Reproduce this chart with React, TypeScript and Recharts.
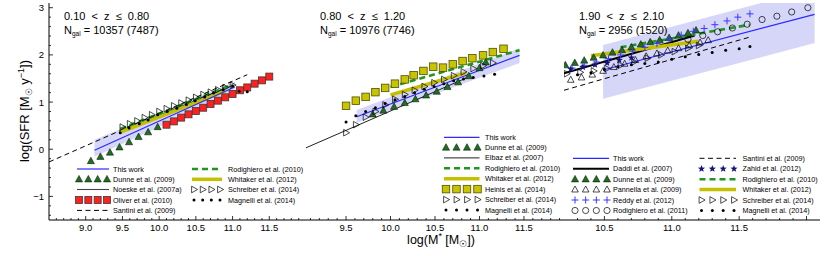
import React from "react";
import { ComposedChart, Line, Area, Scatter, XAxis, YAxis } from "recharts";

const FONT = "'Liberation Sans', Arial, sans-serif";
const Y_DOMAIN: [number, number] = [-1.5, 3.1];
const yLabels = [-1, 0, 1, 2, 3];

// ---- panel 1 : 0.10 < z <= 0.80
const p1Domain: [number, number] = [8.5, 12.0];
const p1XLabels = [9.0, 9.5, 10.0, 10.5, 11.0, 11.5];
const p1BandX = [9.12, 11.03];
const p1BandLo = [-0.16, 1.22];
const p1BandHi = [0.2, 1.43];
const p1ThisWorkY = [-0.02, 1.32];
const p1SantiniX = [8.5, 11.2];
const p1SantiniY = [-0.27, 1.58];
const p1NoeskeX = [9.5, 11.0];
const p1NoeskeY = [0.4, 1.35];
const p1RodX = [9.47, 11.0];
const p1RodY = [0.43, 1.37];
const p1WhitX = [9.47, 10.9];
const p1WhitY = [0.36, 1.23];
const p1DunneX = [9.07, 9.2, 9.33, 9.46, 9.59, 9.72, 9.85, 9.98];
const p1DunneY = [-0.25, -0.16, -0.07, 0.04, 0.15, 0.26, 0.36, 0.47];
const p1OliverX = [10.1, 10.2, 10.3, 10.4, 10.5, 10.6, 10.7, 10.8, 10.9, 11.0, 11.1, 11.2, 11.3, 11.4, 11.5];
const p1OliverY = [0.52, 0.59, 0.67, 0.74, 0.81, 0.88, 0.96, 1.03, 1.1, 1.17, 1.25, 1.31, 1.39, 1.46, 1.54];
const p1SchreiberX = [9.5, 9.6, 9.7, 9.8, 9.9, 10.0, 10.1, 10.2, 10.3, 10.4, 10.5, 10.6, 10.7, 10.8, 10.9, 11.0];
const p1SchreiberY = [0.47, 0.54, 0.6, 0.67, 0.73, 0.8, 0.86, 0.92, 0.98, 1.04, 1.1, 1.16, 1.21, 1.26, 1.31, 1.36];
const p1MagnelliX = [9.47, 9.59, 9.73, 9.85, 9.98, 10.11, 10.24, 10.37, 10.49, 10.62, 10.74, 10.87, 11.0, 11.09, 11.2];
const p1MagnelliY = [0.35, 0.45, 0.54, 0.62, 0.73, 0.8, 0.87, 0.95, 1.03, 1.11, 1.19, 1.26, 1.34, 1.23, 1.22];

// ---- panel 2 : 0.80 < z <= 1.20
const p2Domain: [number, number] = [9.05, 11.95];
const p2XLabels = [9.5, 10.0, 10.5, 11.0, 11.5];
const p2BandX = [9.62, 11.45];
const p2BandLo = [0.56, 1.83];
const p2BandHi = [0.83, 2.14];
const p2ThisWorkY = [0.69, 1.99];
const p2ElbazX = [9.05, 10.9];
const p2ElbazY = [0.03, 1.55];
const p2RodX = [10.0, 11.45];
const p2RodY = [1.32, 2.1];
const p2WhitX = [10.0, 10.85];
const p2WhitY = [1.15, 1.62];
const p2DunneX = [9.8, 9.92, 10.04, 10.16, 10.28, 10.4, 10.52, 10.64, 10.76, 10.88, 11.0, 11.07];
const p2DunneY = [0.74, 0.82, 0.9, 0.98, 1.06, 1.14, 1.22, 1.32, 1.42, 1.55, 1.72, 1.84];
const p2HeinisX = [9.5, 9.61, 9.72, 9.83, 9.94, 10.05, 10.16, 10.26, 10.37, 10.48, 10.59, 10.7, 10.81, 10.92, 11.04, 11.15, 11.27];
const p2HeinisY = [0.92, 1.03, 1.11, 1.21, 1.3, 1.39, 1.48, 1.57, 1.66, 1.75, 1.73, 1.8, 1.87, 1.93, 1.99, 2.06, 2.13];
const p2SchreiberX = [9.5, 9.61, 9.72, 9.83, 9.94, 10.05, 10.16, 10.27, 10.38, 10.49, 10.6, 10.71, 10.82, 10.93, 11.04, 11.15];
const p2SchreiberY = [0.35, 0.52, 0.68, 0.8, 0.94, 1.06, 1.16, 1.25, 1.33, 1.41, 1.48, 1.56, 1.64, 1.71, 1.77, 1.83];
const p2MagnelliX = [9.5, 9.61, 9.72, 9.83, 9.94, 10.05, 10.16, 10.27, 10.38, 10.49, 10.6, 10.71, 10.82, 10.93, 11.05, 11.17];
const p2MagnelliY = [0.58, 0.71, 0.8, 0.88, 0.97, 1.05, 1.12, 1.2, 1.27, 1.33, 1.39, 1.45, 1.49, 1.52, 1.55, 1.59];

// ---- panel 3 : 1.90 < z <= 2.10
const p3Domain: [number, number] = [10.2, 12.1];
const p3XLabels = [10.5, 11.0, 11.5];
const p3BandX = [10.49, 12.06];
const p3BandLo = [1.07, 2.25];
const p3BandHi = [2.21, 3.4];
const p3ThisWorkY = [1.68, 2.86];
const p3DaddiX = [10.2, 11.17];
const p3DaddiY = [1.61, 2.41];
const p3SantiniX = [10.2, 11.57];
const p3SantiniY = [1.25, 2.37];
const p3RodX = [10.62, 11.58];
const p3RodY = [2.16, 2.64];
const p3WhitX = [10.4, 11.2];
const p3WhitY = [1.98, 2.29];
const p3DunneX = [10.21, 10.28, 10.35, 10.42, 10.49, 10.56, 10.63, 10.7, 10.77, 10.84, 10.91, 10.98, 11.05, 11.12, 11.18];
const p3DunneY = [1.78, 1.83, 1.88, 1.94, 1.99, 2.05, 2.1, 2.16, 2.22, 2.27, 2.31, 2.36, 2.41, 2.46, 2.52];
const p3PannellaX = [10.25, 10.33, 10.41, 10.49, 10.57, 10.65, 10.73, 10.81, 10.89, 10.97, 11.05, 11.13, 11.21, 11.27];
const p3PannellaY = [1.47, 1.52, 1.58, 1.66, 1.74, 1.81, 1.89, 1.97, 2.03, 2.09, 2.14, 2.2, 2.26, 2.31];
const p3ReddyX = [10.26, 10.35, 10.44, 10.53, 10.62, 10.71, 10.8, 10.89, 10.98, 11.07, 11.16, 11.24, 11.32, 11.41, 11.49, 11.58];
const p3ReddyY = [1.72, 1.78, 1.85, 1.92, 2.0, 2.08, 2.16, 2.24, 2.33, 2.42, 2.5, 2.56, 2.64, 2.72, 2.8, 2.87];
const p3Rod11X = [11.12, 11.23, 11.34, 11.45, 11.56, 11.67, 11.78, 11.89, 12.01];
const p3Rod11Y = [2.33, 2.41, 2.49, 2.57, 2.65, 2.75, 2.82, 2.91, 3.0];
const p3ZahidX = [10.25, 10.34, 10.43, 10.52, 10.61, 10.7];
const p3ZahidY = [1.7, 1.74, 1.79, 1.83, 1.89, 1.94];
const p3SchreiberX = [10.22, 10.32, 10.42, 10.52, 10.62, 10.72, 10.82, 10.92, 11.02, 11.12, 11.2];
const p3SchreiberY = [1.6, 1.63, 1.66, 1.71, 1.78, 1.85, 1.93, 2.0, 2.07, 2.14, 2.2];
const p3MagnelliX = [10.3, 10.4, 10.5, 10.6, 10.7, 10.8, 10.9, 11.0, 11.1, 11.2, 11.3, 11.4, 11.5, 11.58];
const p3MagnelliY = [1.58, 1.62, 1.69, 1.75, 1.79, 1.82, 1.85, 1.91, 1.96, 2.01, 2.05, 2.1, 2.13, 2.18];

const pts = (xs: number[], ys: number[]) => xs.map((x, i) => ({ x, y: ys[i] }));
const band = (xs: number[], lo: number[], hi: number[]) => xs.map((x, i) => ({ x, r: [lo[i], hi[i]] }));

function ticksIn(lo: number, hi: number, step: number) {
  const out: number[] = [];
  for (let i = Math.ceil(lo / step - 1e-6); i * step <= hi + 1e-6; i++) {
    const v = +(i * step).toFixed(3);
    if (v > lo + 1e-6 && v < hi - 1e-6) out.push(v);
  }
  return out;
}

// marker shapes
const triUp = (cx: number, cy: number, s: number, fill: string, stroke: string, sw: number) => (
  <polygon
    points={`${cx},${cy - 0.6 * s} ${cx - 0.55 * s},${cy + 0.4 * s} ${cx + 0.55 * s},${cy + 0.4 * s}`}
    fill={fill} stroke={stroke} strokeWidth={sw}
  />
);
const triRight = (cx: number, cy: number, s: number) => (
  <polygon
    points={`${cx + 0.6 * s},${cy} ${cx - 0.4 * s},${cy - 0.55 * s} ${cx - 0.4 * s},${cy + 0.55 * s}`}
    fill="none" stroke="#000" strokeWidth={0.7}
  />
);
const square = (cx: number, cy: number, s: number, fill: string, stroke: string) => (
  <rect x={cx - s / 2} y={cy - s / 2} width={s} height={s} fill={fill} stroke={stroke} strokeWidth={0.8} />
);
const star = (cx: number, cy: number, r: number, fill: string) => {
  const p: string[] = [];
  for (let k = 0; k < 10; k++) {
    const a = -Math.PI / 2 + (k * Math.PI) / 5;
    const rr = k % 2 === 0 ? r : r * 0.42;
    p.push(`${cx + rr * Math.cos(a)},${cy + rr * Math.sin(a)}`);
  }
  return <polygon points={p.join(" ")} fill={fill} />;
};

const M = {
  dunne: (cx: number, cy: number) => triUp(cx, cy, 6.5, "#1d701d", "#000", 0.5),
  oliver: (cx: number, cy: number) => square(cx, cy, 7, "#ff1f1f", "#3a3a3a"),
  heinis: (cx: number, cy: number) => square(cx, cy, 7.5, "#c9c400", "#505000"),
  schreiber: (cx: number, cy: number) => triRight(cx, cy, 6),
  magnelli: (cx: number, cy: number) => <circle cx={cx} cy={cy} r={1.5} fill="#000" />,
  reddy: (cx: number, cy: number) => (
    <path d={`M${cx - 3.5},${cy}H${cx + 3.5}M${cx},${cy - 3.5}V${cy + 3.5}`} stroke="#3838ff" strokeWidth={1} />
  ),
  rod11: (cx: number, cy: number) => <circle cx={cx} cy={cy} r={3.1} fill="none" stroke="#000" strokeWidth={0.7} />,
  pannella: (cx: number, cy: number) => triUp(cx, cy, 6, "none", "#000", 0.7),
  zahid: (cx: number, cy: number) => star(cx, cy, 3.8, "#15157d"),
};

// line styles
const L = {
  thisWork: { stroke: "#2b2bff", width: 1.2 },
  santini: { stroke: "#000", width: 1, dash: "5 3.5" },
  noeske: { stroke: "#444", width: 1.1 },
  elbaz: { stroke: "#222", width: 1 },
  daddi: { stroke: "#000", width: 2 },
  rod: { stroke: "#1f961f", width: 2.6, dash: "6 4" },
  whit: { stroke: "#c4c000", width: 3.5 },
};
type LS = { stroke: string; width: number; dash?: string };

const sc = (data: { x: number; y: number }[], draw: (cx: number, cy: number) => React.ReactElement) => (
  <Scatter data={data} dataKey="y" isAnimationActive={false} shape={(p: any) => draw(p.cx, p.cy)} />
);
const ln = (data: { x: number; y: number }[], s: LS) => (
  <Line
    data={data} dataKey="y" type="linear" stroke={s.stroke} strokeWidth={s.width}
    strokeDasharray={s.dash} dot={false} activeDot={false} isAnimationActive={false}
  />
);
const bd = (data: { x: number; r: number[] }[]) => (
  <Area
    data={data} dataKey="r" type="linear" stroke="none" fill="#5a5ae6" fillOpacity={0.25}
    dot={false} activeDot={false} isAnimationActive={false}
  />
);

const isMajorX = (v: number) => Math.abs(v * 2 - Math.round(v * 2)) < 1e-6;
const isMajorY = (v: number) => Math.abs(v - Math.round(v)) < 1e-6;

const xTick = (side: "bottom" | "top", labels: number[]) => (p: any) => {
  const v = p.payload.value;
  const len = isMajorX(v) ? 4 : 2;
  const dir = side === "bottom" ? -1 : 1;
  const lab = labels.some((l) => Math.abs(l - v) < 1e-6);
  return (
    <g>
      <line x1={p.x} x2={p.x} y1={p.y} y2={p.y + dir * len} stroke="#000" strokeWidth={0.8} />
      {lab && (
        <text x={p.x} y={p.y + 10.5} textAnchor="middle" fontSize={9.5} fontFamily={FONT} fill="#000">
          {v.toFixed(1)}
        </text>
      )}
    </g>
  );
};

const yTick = (side: "left" | "right", labels: number[]) => (p: any) => {
  const v = p.payload.value;
  const len = isMajorY(v) ? 4 : 2;
  const dir = side === "left" ? 1 : -1;
  const lab = labels.some((l) => Math.abs(l - v) < 1e-6);
  return (
    <g>
      <line x1={p.x} x2={p.x + dir * len} y1={p.y} y2={p.y} stroke="#000" strokeWidth={0.8} />
      {lab && (
        <text x={p.x - 5} y={p.y + 3.5} textAnchor="end" fontSize={9.5} fontFamily={FONT} fill="#000">
          {v < 0 ? `\u2212${Math.abs(v)}` : `${v}`}
        </text>
      )}
    </g>
  );
};

function Panel(props: {
  left: number;
  width: number;
  yAxisWidth: number;
  xDomain: [number, number];
  xLabels: number[];
  showY: boolean;
  children: React.ReactNode;
}) {
  const { left, width, yAxisWidth, xDomain, xLabels, showY, children } = props;
  const xt = ticksIn(xDomain[0], xDomain[1], 0.1);
  const yt = ticksIn(Y_DOMAIN[0], Y_DOMAIN[1], 0.2);
  const axisLine = { stroke: "#000", strokeWidth: 1 };
  return (
    <div style={{ position: "absolute", left, top: 0, width, height: 256 }}>
      <ComposedChart width={width} height={256} margin={{ top: 3, right: 0, bottom: 16, left: 0 }}>
        <XAxis
          type="number" dataKey="x" domain={xDomain} allowDataOverflow ticks={xt} interval={0}
          tickSize={0} tickMargin={0} height={20} axisLine={axisLine} tickLine={false}
          tick={xTick("bottom", xLabels)}
        />
        <XAxis
          xAxisId="top" orientation="top" type="number" dataKey="x" domain={xDomain} allowDataOverflow
          ticks={xt} interval={0} tickSize={0} tickMargin={0} height={0} axisLine={axisLine}
          tickLine={false} tick={xTick("top", [])}
        />
        <YAxis
          type="number" domain={Y_DOMAIN} allowDataOverflow ticks={yt} interval={0} tickSize={0}
          tickMargin={0} width={yAxisWidth} axisLine={axisLine} tickLine={false}
          tick={yTick("left", showY ? yLabels : [])}
        />
        <YAxis
          yAxisId="right" orientation="right" type="number" domain={Y_DOMAIN} allowDataOverflow
          ticks={yt} interval={0} tickSize={0} tickMargin={0} width={0} axisLine={axisLine}
          tickLine={false} tick={yTick("right", [])}
        />
        {children}
      </ComposedChart>
    </div>
  );
}

type Sym = { line?: LS; mark?: (cx: number, cy: number) => React.ReactElement };

function legendRow(key: string, x0: number, x1: number, y: number, tx: number, label: string, sym: Sym) {
  const marks = [0, 1, 2, 3].map((k) => x0 + ((x1 - x0) * k) / 3);
  return (
    <g key={key}>
      {sym.line && (
        <line x1={x0 - 2} x2={x1 + 2} y1={y} y2={y} stroke={sym.line.stroke}
          strokeWidth={sym.line.width} strokeDasharray={sym.line.dash} />
      )}
      {sym.mark && marks.map((mx, i) => <g key={i}>{sym.mark!(mx, y)}</g>)}
      <text x={tx} y={y + 2.5} fontSize={7.2} fontFamily={FONT} fill="#000">{label}</text>
    </g>
  );
}

function Heading({ x, z, n }: { x: number; z: string; n: string }) {
  return (
    <g fontFamily={FONT} fontSize={11} fill="#000">
      <text x={x} y={20} xmlSpace="preserve">{z}</text>
      <text x={x} y={34}>
        N<tspan fontSize={6.5} dy={2}>gal</tspan>
        <tspan dy={-2}>{` = ${n}`}</tspan>
      </text>
    </g>
  );
}

export default function App() {
  const r1 = [169, 179.3, 189.5, 200, 210.4];
  const r2 = [137.3, 147.6, 157.9, 168.3, 178.7, 189.1, 199.6, 210.1];
  const r3 = [158.3, 168.8, 179.3, 189.6, 200, 210.5];
  return (
    <div style={{ position: "absolute", left: 0, top: 0, width: 830, height: 256, background: "#fff" }}>
      <Panel left={0} width={306} yAxisWidth={49} xDomain={p1Domain} xLabels={p1XLabels} showY>
        {bd(band(p1BandX, p1BandLo, p1BandHi))}
        {ln(pts(p1SantiniX, p1SantiniY), L.santini)}
        {ln(pts(p1NoeskeX, p1NoeskeY), L.noeske)}
        {ln(pts(p1WhitX, p1WhitY), L.whit)}
        {ln(pts(p1RodX, p1RodY), L.rod)}
        {ln(pts(p1BandX, p1ThisWorkY), L.thisWork)}
        {sc(pts(p1DunneX, p1DunneY), M.dunne)}
        {sc(pts(p1OliverX, p1OliverY), M.oliver)}
        {sc(pts(p1SchreiberX, p1SchreiberY), M.schreiber)}
        {sc(pts(p1MagnelliX, p1MagnelliY), M.magnelli)}
      </Panel>
      <Panel left={306} width={258} yAxisWidth={0} xDomain={p2Domain} xLabels={p2XLabels} showY={false}>
        {bd(band(p2BandX, p2BandLo, p2BandHi))}
        {ln(pts(p2ElbazX, p2ElbazY), L.elbaz)}
        {ln(pts(p2WhitX, p2WhitY), L.whit)}
        {ln(pts(p2RodX, p2RodY), L.rod)}
        {ln(pts(p2BandX, p2ThisWorkY), L.thisWork)}
        {sc(pts(p2HeinisX, p2HeinisY), M.heinis)}
        {sc(pts(p2DunneX, p2DunneY), M.dunne)}
        {sc(pts(p2SchreiberX, p2SchreiberY), M.schreiber)}
        {sc(pts(p2MagnelliX, p2MagnelliY), M.magnelli)}
      </Panel>
      <Panel left={564} width={256} yAxisWidth={0} xDomain={p3Domain} xLabels={p3XLabels} showY={false}>
        {bd(band(p3BandX, p3BandLo, p3BandHi))}
        {ln(pts(p3SantiniX, p3SantiniY), L.santini)}
        {ln(pts(p3DaddiX, p3DaddiY), L.daddi)}
        {ln(pts(p3WhitX, p3WhitY), L.whit)}
        {ln(pts(p3RodX, p3RodY), L.rod)}
        {ln(pts(p3BandX, p3ThisWorkY), L.thisWork)}
        {sc(pts(p3DunneX, p3DunneY), M.dunne)}
        {sc(pts(p3PannellaX, p3PannellaY), M.pannella)}
        {sc(pts(p3SchreiberX, p3SchreiberY), M.schreiber)}
        {sc(pts(p3ReddyX, p3ReddyY), M.reddy)}
        {sc(pts(p3ZahidX, p3ZahidY), M.zahid)}
        {sc(pts(p3Rod11X, p3Rod11Y), M.rod11)}
        {sc(pts(p3MagnelliX, p3MagnelliY), M.magnelli)}
      </Panel>

      <svg width={830} height={256} style={{ position: "absolute", left: 0, top: 0, pointerEvents: "none" }}>
        <Heading x={64} z={"0.10  <  z  \u2264  0.80"} n="10357 (7487)" />
        <Heading x={320} z={"0.80  <  z  \u2264  1.20"} n="10976 (7746)" />
        <Heading x={579} z={"1.90  <  z  \u2264  2.10"} n="2956 (1520)" />

        {legendRow("a1", 79, 107, r1[0], 113, "This work", { line: L.thisWork })}
        {legendRow("a2", 79, 107, r1[1], 113, "Dunne et al. (2009)", { mark: M.dunne })}
        {legendRow("a3", 79, 107, r1[2], 113, "Noeske et al. (2007a)", { line: L.noeske })}
        {legendRow("a4", 79, 107, r1[3], 113, "Oliver et al. (2010)", { mark: M.oliver })}
        {legendRow("a5", 79, 107, r1[4], 113, "Santini et al. (2009)", { line: L.santini })}
        {legendRow("a6", 194, 220, r1[0], 228, "Rodighiero et al. (2010)", { line: L.rod })}
        {legendRow("a7", 194, 220, r1[1], 228, "Whitaker et al. (2012)", { line: L.whit })}
        {legendRow("a8", 194, 220, r1[2], 228, "Schreiber et al. (2014)", { mark: M.schreiber })}
        {legendRow("a9", 194, 220, r1[3], 228, "Magnelli et al. (2014)", { mark: M.magnelli })}

        {legendRow("b1", 446, 477.5, r2[0], 485, "This work", { line: L.thisWork })}
        {legendRow("b2", 446, 477.5, r2[1], 485, "Dunne et al. (2009)", { mark: M.dunne })}
        {legendRow("b3", 446, 477.5, r2[2], 485, "Elbaz et al. (2007)", { line: L.elbaz })}
        {legendRow("b4", 446, 477.5, r2[3], 485, "Rodighiero et al. (2010)", { line: L.rod })}
        {legendRow("b5", 446, 477.5, r2[4], 485, "Whitaker et al. (2012)", { line: L.whit })}
        {legendRow("b6", 446, 477.5, r2[5], 485, "Heinis et al. (2014)", { mark: M.heinis })}
        {legendRow("b7", 446, 477.5, r2[6], 485, "Schreiber et al. (2014)", { mark: M.schreiber })}
        {legendRow("b8", 446, 477.5, r2[7], 485, "Magnelli et al. (2014)", { mark: M.magnelli })}

        {legendRow("c1", 575, 607, r3[0], 613, "This work", { line: L.thisWork })}
        {legendRow("c2", 575, 607, r3[1], 613, "Daddi et al. (2007)", { line: L.daddi })}
        {legendRow("c3", 575, 607, r3[2], 613, "Dunne et al. (2009)", { mark: M.dunne })}
        {legendRow("c4", 575, 607, r3[3], 613, "Pannella et al. (2009)", { mark: M.pannella })}
        {legendRow("c5", 575, 607, r3[4], 613, "Reddy et al. (2012)", { mark: M.reddy })}
        {legendRow("c6", 575, 607, r3[5], 613, "Rodighiero et al. (2011)", { mark: M.rod11 })}
        {legendRow("c7", 701.5, 734, r3[0], 742.5, "Santini et al. (2009)", { line: L.santini })}
        {legendRow("c8", 701.5, 734, r3[1], 742.5, "Zahid et al. (2012)", { mark: M.zahid })}
        {legendRow("c9", 701.5, 734, r3[2], 742.5, "Rodighiero et al. (2010)", { line: L.rod })}
        {legendRow("c10", 701.5, 734, r3[3], 742.5, "Whitaker et al. (2012)", { line: L.whit })}
        {legendRow("c11", 701.5, 734, r3[4], 742.5, "Schreiber et al. (2014)", { mark: M.schreiber })}
        {legendRow("c12", 701.5, 734, r3[5], 742.5, "Magnelli et al. (2014)", { mark: M.magnelli })}

        <text x={441} y={244} textAnchor="middle" fontSize={12.5} fontFamily={FONT} fill="#000">
          log(M<tspan fontSize={9} dy={-5}>*</tspan>
          <tspan dy={5}> [M</tspan>
          <tspan fontSize={9} dy={3}>{"\u2609"}</tspan>
          <tspan dy={-3}>])</tspan>
        </text>
        <text transform="translate(29,111) rotate(-90)" textAnchor="middle" fontSize={13} fontFamily={FONT} fill="#000">
          log(SFR [M<tspan fontSize={9} dy={3}>{"\u2609"}</tspan>
          <tspan dy={-3}> y</tspan>
          <tspan fontSize={9} dy={-5}>{"\u22121"}</tspan>
          <tspan dy={5}>])</tspan>
        </text>
      </svg>
    </div>
  );
}
